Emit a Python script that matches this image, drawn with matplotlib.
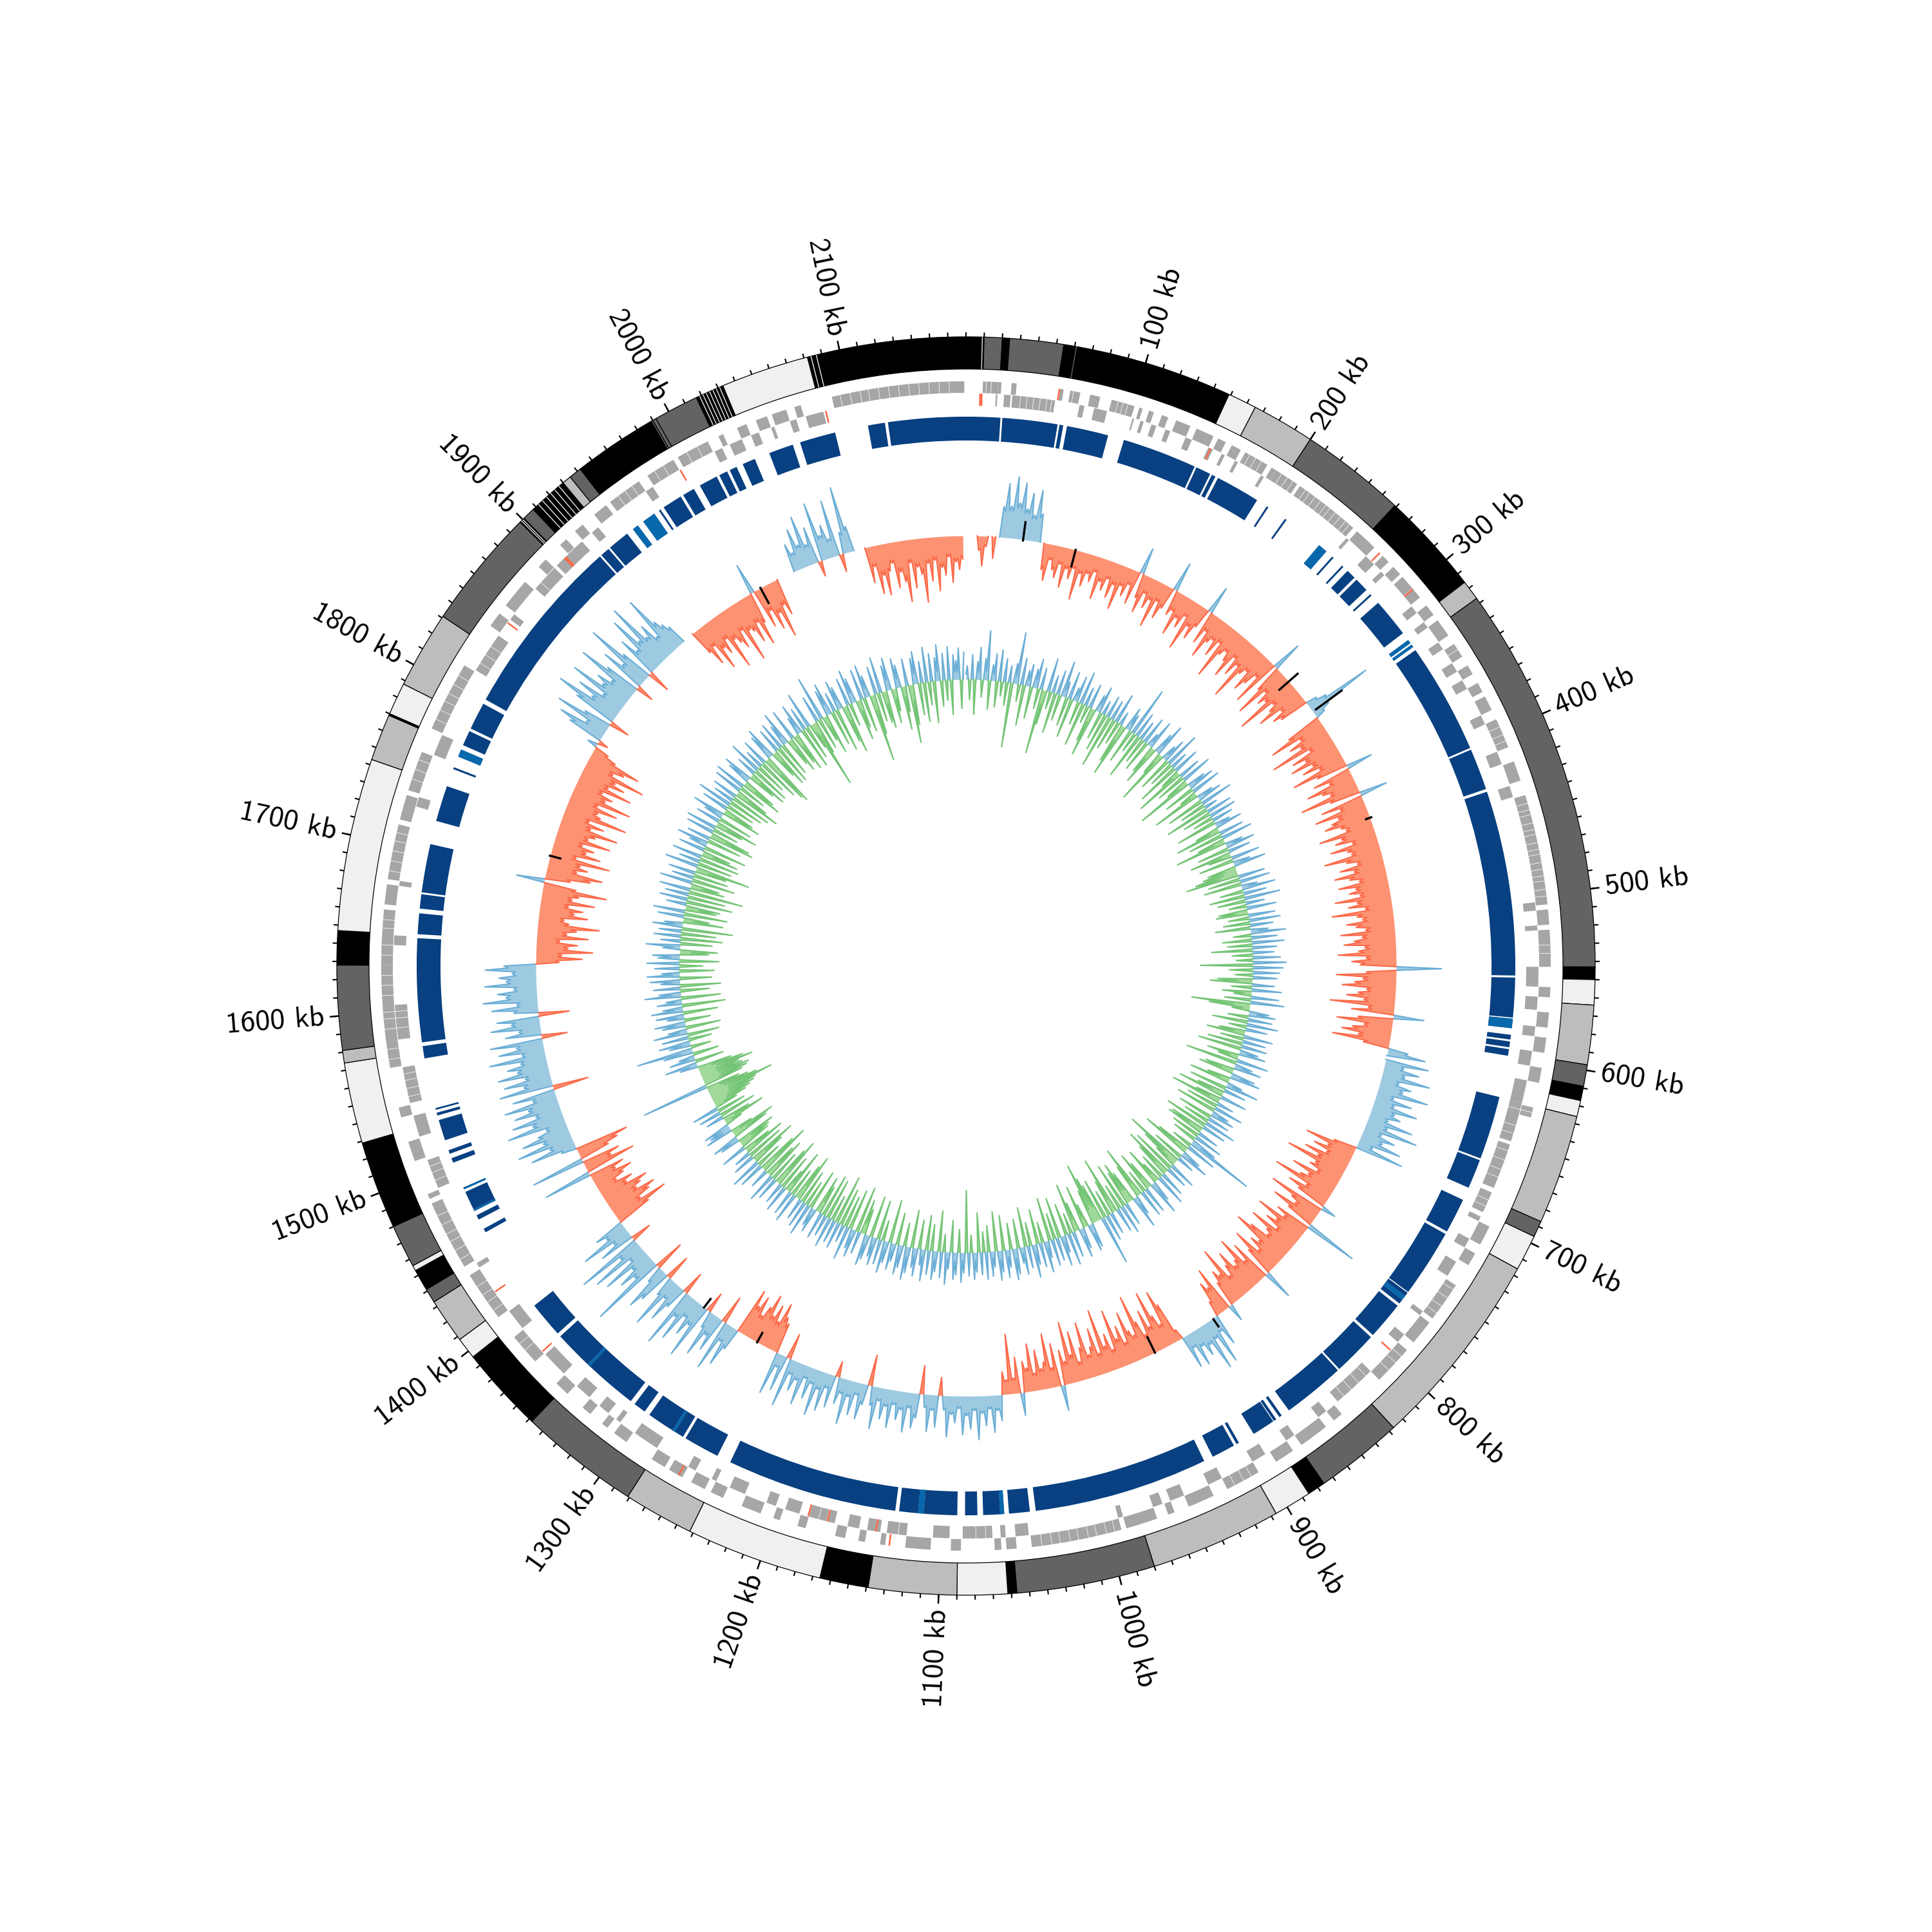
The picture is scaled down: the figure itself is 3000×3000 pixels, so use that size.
#coding:utf-8
import matplotlib
matplotlib.use('Agg')
import matplotlib.pyplot as plt
import numpy as np

genome_kb = 2170
bin_kb = 3

# outer ideogram-like ring
band_edges = [0,10,20,24,54,63,149,165,200,259,316,327,543,550,564,597,609,617,626,687,696,716,827,876,886,907,980,1057,1062,1090,1139,1166,1242,1281,1348,1396,1408,1433,1441,1453,1456,1480,1529,1574,1581,1628,1647,1743,1769,1770,1788,1831,1898,1901,1908,1930,1935,1942,1989,2017,2033,2082,2170]
band_tones = ['k','d','k','d','k','k','l','m','d','k','m','d','k','l','m','d','k','l','m','d','l','m','d','k','l','m','d','k','l','m','k','l','m','d','k','l','m','d','k','l','d','k','l','m','d','k','l','m','k','l','m','d','k','d','k','m','d','k','d','k','l','k']
slit_kb = [9,61,2084,2087,2019,2021,2023,2025,2027,2029,2031,1990,1992,1899,1900,1912,1915,1918,1921,1924,1927,1770]
slit_tone = ['l','d','l','l','l','l','l','l','l','l','l','k','k','l','l','l','l','l','l','l','l','k']

# genes, forward then reverse strand
outer_start = [10,19,27,56,62,74,87,104,110,118,127,140,154,163,172,190,193,210,253,274,283,291,313,324,341,356,368,377,392,419,440,509,521,555,570,585,603,627,702,720,742,769,790,844,856,880,904,934,959,970,992,1055,1064,1088,1106,1133,1145,1157,1181,1197,1209,1233,1245,1260,1272,1299,1313,1326,1344,1371,1405,1441,1486,1510,1537,1567,1628,1664,1679,1715,1733,1772,1842,1857,1887,1905,1917,1932,1944,1971,1992,2019,2031,2043,2053,2067,2090]
outer_end = [19,21,30,58,68,80,101,106,113,122,136,151,159,169,187,193,208,250,267,279,289,307,320,335,350,362,374,386,410,431,506,518,543,561,579,594,612,633,714,728,766,784,814,850,874,892,925,950,963,989,1046,1061,1068,1094,1121,1136,1149,1163,1186,1201,1221,1241,1254,1269,1281,1308,1317,1332,1353,1390,1435,1483,1489,1522,1543,1628,1661,1676,1712,1730,1757,1814,1851,1875,1893,1910,1923,1941,1965,1989,2012,2022,2037,2050,2062,2071,2169]
inner_start = [18,23,28,69,78,102,107,114,123,136,151,160,169,187,251,267,280,308,320,335,350,362,386,410,432,504,518,543,561,579,594,612,626,652,683,699,714,730,766,784,814,850,874,895,925,950,964,989,1047,1061,1069,1095,1121,1137,1150,1165,1187,1202,1222,1241,1255,1282,1309,1318,1333,1354,1391,1436,1490,1523,1544,1583,1640,1676,1725,1758,1815,1852,1876,1895,1924,1965,2013,2023,2037,2050,2062,2072]
inner_end = [19,27,54,72,86,103,109,117,126,140,154,162,171,189,253,274,283,313,324,340,356,368,392,418,439,509,521,555,569,585,603,626,650,680,696,702,720,740,769,790,841,856,880,904,934,959,970,992,1055,1064,1087,1105,1133,1145,1157,1181,1196,1208,1232,1244,1260,1298,1312,1325,1343,1370,1404,1439,1508,1536,1566,1604,1646,1679,1731,1771,1840,1856,1893,1916,1929,1970,2018,2031,2042,2052,2066,2083]
gene_slit_kb = [12,15,33,37,41,45,49,52,64,91,94,97,175,179,183,197,201,205,214,217,221,225,229,232,236,240,244,247,300,345,397,402,406,445,449,452,457,461,464,469,473,476,481,485,489,492,497,501,530,535,630,640,645,656,662,668,673,688,692,745,751,757,762,795,800,806,818,824,830,836,909,914,920,996,1001,1007,1012,1018,1023,1029,1034,1040,1073,1079,1126,1170,1175,1380,1385,1410,1416,1421,1427,1446,1452,1458,1463,1469,1475,1495,1500,1504,1548,1553,1558,1562,1572,1578,1590,1596,1600,1610,1616,1622,1634,1640,1650,1655,1684,1690,1696,1702,1707,1740,1746,1752,1778,1784,1790,1795,1801,1807,1820,1826,1832,1881,1902,1950,1955,1960,1976,1982,1998,2005,2095,2101,2107,2112,2118,2124,2130,2136,2142,2148,2154,2160]
red_start = [8,55,152,271,300,796,1130,1139,1169,1181,1262,1372,1418,1849,1901,1989,2084]
red_end = [10,56,153,272,301,797,1131,1140,1170,1182,1263,1373,1419,1850,1903,1990,2085]
red_row = ['i','o','i','o','o','i','o','i','i','i','o','i','i','i','i','i','i']

# middle ring of regions, pale ones listed apart
block_start = [2120.7,0,22.9,59.1,63.9,100.7,149.5,160.3,164.6,200.1,214,241.1,252,260.4,265.2,273.1,285.7,293,323.1,326.7,330.9,402.7,431,549.8,575.7,585.9,590.1,595,625.7,667.3,694.4,718.5,762.5,765,768,772.8,798.7,828.2,873.5,877.7,880,905.4,909,930.1,1044.7,1060.9,1063.4,1077.8,1090.5,1111.6,1115.2,1129.6,1247.2,1271.9,1278,1279.7,1300.8,1311.7,1345.5,1347.3,1374.4,1452.7,1461.8,1467.8,1469,1482.9,1501,1507,1516,1532.3,1536,1569.1,1579.3,1647.5,1663.7,1674,1719.8,1754.1,1762.6,1770.4,1781.9,1802.4,1919.3,1926.5,1945,1953.1,1965.1,1968.7,1983.2,1995.3,2009.1,2016.4,2025.4,2043.5,2064,2108]
block_end = [2170,21.7,57.9,61.5,90.4,148.3,159.1,162.8,192.9,201.3,215.2,247.1,253.2,261.6,271.3,282.1,286.9,317.7,325.5,328.5,401.5,429.2,548.5,575,581.7,588.9,593.8,599.2,666.1,686,716.7,761.9,765,768,771,796.9,827,868,875.3,879.5,894.6,907.2,924.1,1041,1057.9,1063.4,1074.2,1085.6,1111.6,1115.2,1127.2,1238.2,1270.1,1278,1279.7,1297.2,1308.7,1345.5,1347.3,1372,1397.3,1455.2,1464.8,1469,1481.1,1484.1,1504,1509.4,1529.3,1534.1,1537.1,1576.9,1645,1660.7,1672.8,1704.8,1742.7,1755.4,1767.4,1780.1,1799.4,1918.1,1925.3,1940.4,1948.9,1961.6,1966.3,1981.4,1991,2007.3,2014.6,2021.2,2033.7,2059.2,2086.9,2118.8]
block_pale = [241.1,323.1,326.7,575.7,765,1060.9,1111.6,1278,1345.5,1467.8,1482.9,1762.6,1945,1953.1]

# 3 kb bins, one line is 60 kb
skew = [
0,0,0,-28,-58,-20,0,-42,0,60,105,62,120,70,110,60,92,50,100,55,
0,-52,-72,-30,-48,-62,-34,-78,-40,-58,-36,-95,-42,-65,-38,-52,-30,-82,-45,-60,
-35,-70,-42,-88,-38,-56,-30,-66,52,-48,-75,-33,-60,-40,-92,-36,-68,-44,58,-50,
-38,-84,-46,-62,-34,-100,-48,-70,-40,55,-66,-36,-88,-52,-42,-72,-38,-110,-56,-44,
-60,-90,-42,-76,-50,-118,-58,-46,-84,-64,-40,-96,60,-54,-108,-48,-72,-60,-125,-52,
-66,-94,-48,-72,-58,22,40,130,35,20,-70,-112,-52,-80,-60,-126,-48,-90,-66,-100,
-58,-82,-50,-110,-62,52,-76,-46,-96,-68,-54,-118,-60,55,-84,-48,-102,-58,-74,-90,
-60,-52,-108,-66,-80,-48,-94,-62,-56,-112,-70,-50,-86,-60,-100,-72,-54,-96,-64,-78,
-58,-108,-66,-84,-52,-118,-70,-60,-92,-74,-56,-105,-64,-80,-100,-60,-72,-112,-58,-86,
-70,88,-58,-116,-64,-80,-104,-56,-72,-94,-60,-125,-50,-82,60,-68,-108,-54,-76,-96,
-62,-112,-50,40,75,0,85,38,70,44,95,36,62,48,100,34,72,40,88,46,
60,38,90,42,105,36,66,44,84,30,95,-45,-100,-52,-78,-48,-90,-60,-120,-58,
-66,-46,-95,-58,-72,-122,-50,-84,-60,30,-110,-62,-48,-92,-55,105,-70,-50,-104,-58,
-76,-46,-100,-60,-52,-88,-116,-56,-70,-44,-96,-58,60,-82,-48,-105,-62,-54,-90,-66,
-46,-112,-60,-72,-50,35,-90,-54,-68,-30,62,30,92,36,97,40,58,34,70,28,
66,-20,-80,-110,-44,-66,-118,-50,-86,-40,-70,-125,-48,-60,-100,-42,-78,-55,-115,-38,
-72,-50,-125,-40,-92,-58,-44,-110,-62,-36,-98,-54,-120,-44,-68,50,-84,-38,-106,-52,
-40,-78,-34,-92,-46,-60,45,-70,-30,-116,-28,-44,50,30,72,26,58,34,85,28,
64,38,75,24,52,36,80,28,-35,62,30,72,26,-55,48,68,30,78,36,56,
28,74,34,60,26,82,38,-60,40,70,24,66,32,88,30,52,-30,64,28,76,
36,90,30,62,24,80,34,58,28,96,-50,70,26,84,-60,-70,-95,-55,-85,-60,
-100,-72,-50,-85,-62,-92,44,82,36,100,-55,70,42,90,34,-40,110,46,72,38,
95,50,118,-45,44,80,36,105,40,-50,66,90,34,-60,148,48,76,40,98,32,
110,44,130,-40,70,36,100,42,60,-70,-112,-60,-85,-100,-65,-78,-95,-55,-70,-40,
-60,-80,-50,-70,95,-100,-55,-75,105,-60,-82,-105,30,90,48,110,55,95,60,40,
115,62,100,50,90,60,105,46,84,-70,105,55,92,48,100,60,78,50,110,44,
88,52,102,-50,70,42,96,55,82,-60,48,90,40,105,60,76,44,100,58,72,
46,98,62,-45,-90,-50,-110,-62,-80,-45,-100,-58,-76,-120,-60,-50,-95,-68,-84,-55,
-105,-60,-72,-125,-64,55,-50,-88,-110,-58,-78,-62,-118,-50,-96,-66,-80,-55,-108,-62,
-74,-116,-60,-84,-52,-125,-70,-62,-98,-56,-120,-66,-78,-54,-110,-60,-90,-68,-124,-56,
-76,-104,-50,-30,20,-20,70,95,42,110,55,-40,85,130,60,95,45,120,58,75,
48,125,70,-35,90,52,135,64,-45,82,50,118,60,135,55,76,42,125,66,52,
40,0,0,0,-50,-80,-45,-100,-60,-75,-48,-115,-58,-70,-85,-52,-120,-60,-66,-92,
-55,-105,-62,60,-78,-48,-90,-60,-112,-50,-72,0,0,0,0,0,55,35,80,45,
100,40,72,-30,115,48,66,36,110,-35,42,130,50,0,0,0,-70,-40,-95,-60,
-100,-55,-40,-90,-60,-80,-120,-45,-95,-55,-70,-125,-50,-85,-45,-105,-60,-75,-40,-90,
-50,-65,-45]

gc = [
30,-35,55,-60,40,72,-30,48,110,-50,35,60,-45,70,-25,52,-40,38,-111,45,
115,-30,60,-70,35,50,-55,42,66,-35,48,-112,-60,75,-30,40,-70,55,-45,80,
35,-50,62,-68,30,58,-40,74,-75,42,-30,55,-60,-85,38,60,-48,32,-65,50,
-92,45,-55,68,-40,30,-70,-93,52,38,-60,112,-35,58,-80,44,-45,62,-55,30,
66,-50,-70,48,75,-40,-95,35,55,-60,81,-45,40,-75,60,-35,-88,50,-52,70,
-40,-100,42,60,-55,68,-30,-85,38,55,-65,74,-45,30,-78,58,-50,62,-35,48,
-70,35,60,-42,-80,55,-60,70,-48,-90,40,65,-55,50,-72,-40,64,-60,38,72,
-50,-60,-75,-92,60,-55,68,-65,36,75,-40,52,-60,80,-48,42,-30,66,-50,-55,
60,-35,70,-45,52,-60,40,78,-30,58,-50,72,-42,55,-70,48,-35,62,-28,75,
-90,68,-40,60,-30,55,-60,-72,50,-35,66,-50,-30,62,-45,75,-101,-70,-30,45,
60,-35,55,-60,70,-30,48,-45,-66,65,-40,52,-60,58,-75,42,60,-55,-35,72,
-89,40,62,-50,-60,55,68,-40,-70,35,74,-65,50,-48,-80,60,-45,-88,38,-55,
66,-70,40,55,-60,50,-45,72,-75,55,-60,-65,48,-50,65,-42,60,155,-35,70,
-60,-85,45,68,-55,40,-104,-70,-40,62,-78,50,-88,-62,58,-45,72,-35,-66,48,
77,-50,-70,60,-40,62,-92,-60,45,74,-55,-75,-60,52,-80,66,-45,55,-100,-60,
50,-45,60,-70,110,-65,-80,-107,-60,55,62,-40,-75,48,66,-50,-85,58,-35,72,
-55,40,68,-70,52,-45,60,-75,38,70,-35,55,-60,46,74,-40,50,-68,62,36,
-50,58,70,-45,40,62,-60,48,66,-68,35,55,-45,61,-35,50,-68,44,60,-30,
52,-107,45,66,-40,50,60,-55,38,72,-30,58,-70,46,64,-45,54,-60,70,36,
-50,62,44,-65,58,74,-40,50,66,-55,40,60,-75,48,72,-35,56,-68,62,44,
-72,55,70,-45,-60,50,-80,62,45,-70,75,-55,40,-65,60,-85,52,-45,68,-70,
48,-75,60,-50,-65,55,42,-70,72,-45,60,-60,48,-85,-65,66,-50,55,-80,-40,
60,-62,48,-90,-70,52,-55,66,-75,-60,44,-95,-72,58,-45,70,-60,-85,50,-65,
38,-75,-50,58,-55,-60,-70,45,60,-66,-80,-40,62,50,60,-30,-75,-50,40,-65,
50,-50,60,-40,-60,-70,-80,-85,-117,-90,-75,-60,150,-70,-80,-85,-75,-70,-96,-80,
-60,40,72,-50,58,35,-45,66,125,-35,48,70,-40,60,-55,75,42,-60,52,68,
-45,38,62,-60,70,44,-75,55,35,-68,80,48,-50,60,-70,42,66,-55,72,40,
-60,55,-40,72,-68,48,60,-50,-65,38,75,-55,44,-72,60,-60,50,-88,66,40,
-70,-45,58,-75,70,-55,-60,44,-80,62,-65,52,-95,68,-60,-50,72,-75,48,-60,
60,-55,-95,74,-60,46,-70,66,-65,-50,58,-75,40,70,-60,52,-80,-72,62,-45,
68,-50,-75,54,-60,42,72,-70,-55,60,-50,78,-62,46,-72,56,-85,-60,64,-48,
70,-75,-60,52,66,-50,-70,45,-68,74,-55,42,-75,60,-88,-97,58,72,-50,-70,
55,-70,62,-60,48,76,-50,-65,70,-55,-70,40,68,-72,52,-60,82,-45,-120,-60,
60,-55,100,-45,-70,58,72,-60,44,-75,66,50,-65,-85,62,-40,76,55,-70,-50,
68,-60,74,48,-117,-70,62,-50,80,-55,-65,56,72,-60,-40,66,50,-75,-45,60,
-101,-70,58,72,-55,48,-68,78,-40,62,-72,52,80,-45,60,-35,74,-60,55,42,
70,-50,60]

# short black marks on the outer signal
mark_kb = [46,89,293,324,421,928,874,1260,1311,1717,1998]
mark_inner = [665,640,647,672,660,640,668,650,650,650,640]
mark_outer = [697,670,688,725,672,670,685,670,670,670,670]

tones = {'k':'#000000','d':'#636363','m':'#bdbdbd','l':'#f0f0f0'}
plt.rcParams['font.family'] = ['cmss10','DejaVu Sans']
plt.rcParams['axes.unicode_minus'] = False

def th(kb):
    return np.asarray(kb,dtype=float)/genome_kb*2*np.pi

def ring(ax,start,end,r0,r1,color,**kw):
    start,end = np.asarray(start,dtype=float),np.asarray(end,dtype=float)
    ax.bar(th(start),r1-r0,width=th(end-start),bottom=r0,align='edge',color=color,linewidth=0,**kw)

def signal(ax,values,r0,scale_up,scale_down,band,col_up,fill_up,col_down,fill_down):
    """spikes peak at bin centre and fall to a shoulder at the bin edge"""
    v = np.asarray(values,dtype=float)
    t = np.arange(2*len(v))*bin_kb/2.0
    for part,fc,lc in ((np.clip(v,0,None)*scale_up,fill_up,col_up),(np.clip(v,None,0)*scale_down,fill_down,col_down)):
        shape = np.zeros(2*len(v))
        shape[1::2] = part
        shoulder = np.minimum(np.abs(part),np.abs(np.roll(part,1)))*band
        shape[0::2] = shoulder*np.sign(part)
        ax.fill_between(th(t),r0,r0+shape,color=fc,linewidth=0)
        line = r0+shape
        quiet = (shape==0)&(np.roll(shape,1)==0)&(np.roll(shape,-1)==0)
        line[quiet] = np.nan
        ax.plot(th(t),line,color=lc,lw=0.5)

fig = plt.figure(figsize=(10,10),dpi=300)
ax = fig.add_axes([0,0,1,1],projection='polar')
ax.set_theta_zero_location('N')
ax.set_theta_direction(-1)

# outer ring
edges = np.array(band_edges,dtype=float)
ax.bar(th(edges[:-1]),50,width=th(np.diff(edges)),bottom=927,align='edge',
       color=[tones[t] for t in band_tones],edgecolor='black',linewidth=0.3)
for kb,tone in zip(slit_kb,slit_tone):
    ax.bar(th(kb),50,width=th(0.5),bottom=927,color=tones[tone],linewidth=0)

# ticks and labels
minor = np.arange(0,genome_kb,10)
major = np.arange(100,genome_kb,100)
ax.vlines(th(minor),977,984,color='black',lw=0.5)
ax.vlines(th(major),977,991,color='black',lw=0.6)
for kb in major:
    deg = kb/genome_kb*360
    if deg<180:
        rot,ha = 90-deg,'left'
    else:
        rot,ha = 270-deg,'right'
    ax.text(th(kb),1000,'%d kb'%kb,rotation=rot,rotation_mode='anchor',ha=ha,va='center',fontsize=11)

# genes
ring(ax,outer_start,outer_end,890,908,'#a6a6a6')
ring(ax,inner_start,inner_end,870,889,'#a6a6a6')
ax.bar(th(gene_slit_kb),38,width=th(0.3),bottom=870,color='white',linewidth=0)
for s,e,row in zip(red_start,red_end,red_row):
    r0,r1 = (890,908) if row=='o' else (870,889)
    ring(ax,[s],[e],r0,r1,'#fb6a4a')

# regions
ring(ax,block_start,block_end,816,853,'#084081')
for s,e in zip(block_start,block_end):
    if s in block_pale:
        ring(ax,[s],[e],816,853,'#0868ac')

# signals
signal(ax,skew,668,0.8,0.8,0.85,'#6baed6','#9ecae1','#fb6a4a','#fc9272')
ax.vlines(th(mark_kb),mark_inner,mark_outer,color='black',lw=0.8)
signal(ax,gc,445,0.7,0.9,0.4,'#6baed6','#9ecae1','#74c476','#a1d99b')

ax.set_ylim(0,1500)
ax.set_axis_off()
fig.savefig('out.png',dpi=300,facecolor='white')
